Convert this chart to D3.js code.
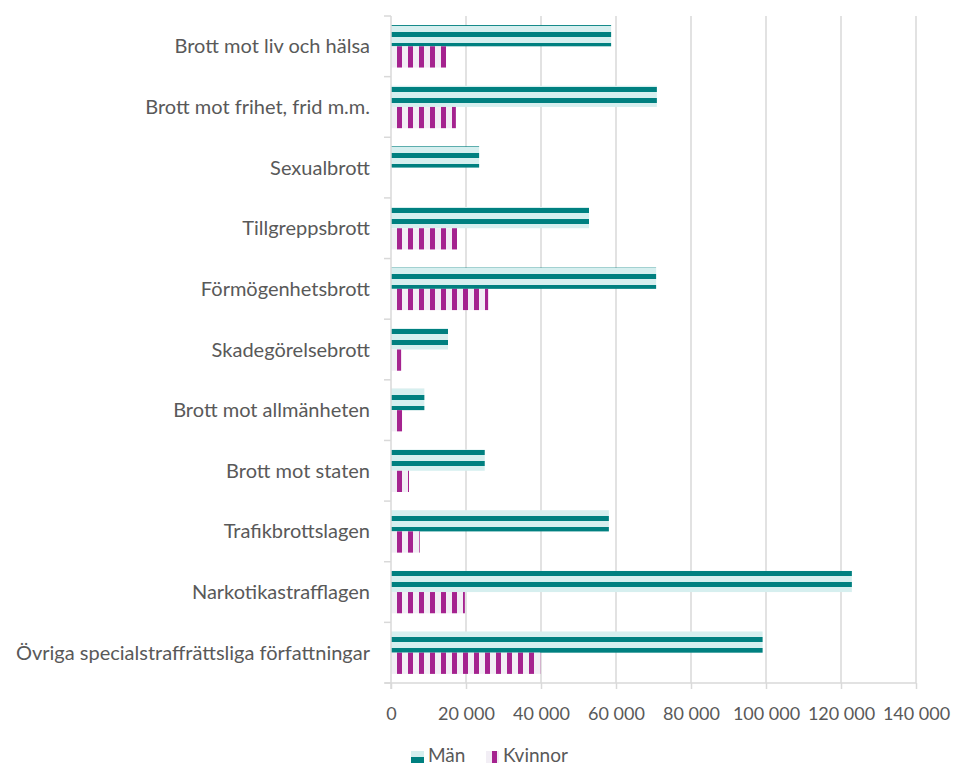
<!DOCTYPE html>
<html><head><meta charset="utf-8">
<script src="https://cdn.jsdelivr.net/npm/d3@7"></script>
<style>body{margin:0;background:#fff}svg{display:block}text{font-family:Lato,"Open Sans",sans-serif;fill:#595959}</style>
</head><body><svg id="c" width="954" height="767"></svg>
<script>
const categories = ["Brott mot liv och hälsa","Brott mot frihet, frid m.m.","Sexualbrott","Tillgreppsbrott","Förmögenhetsbrott","Skadegörelsebrott","Brott mot allmänheten","Brott mot staten","Trafikbrottslagen","Narkotikastrafflagen","Övriga specialstraffrättsliga författningar"];
const man = [58700,70900,23500,52800,70700,15200,8900,25000,58100,122900,99100];
const kvinnor = [14700,17300,150,17600,25900,2700,3000,4800,7650,19700,39800];
const seriesNames = ["Män","Kvinnor"];
const xTicks = [0,20000,40000,60000,80000,100000,120000,140000];

const svg = d3.select("#c");
const L = 391, R = 916, T = 16, B = 683;
const x = d3.scaleLinear().domain([0,140000]).range([L,R]);
const y = d3.scaleBand().domain(categories).range([T,B]).paddingInner(0.3).paddingOuter(0.15);
const ys = d3.scaleBand().domain(seriesNames).range([0,y.bandwidth()]);
const fmt = d3.formatLocale({decimal:",",thousands:" ",grouping:[3],currency:["","kr"]}).format(",");

const defs = svg.append("defs");
const pm = defs.append("pattern").attr("id","pm").attr("patternUnits","userSpaceOnUse").attr("x",0).attr("y",10).attr("width",11).attr("height",11);
pm.append("rect").attr("width",11).attr("height",11).attr("fill","#d6efef");
pm.append("rect").attr("width",11).attr("height",5).attr("fill","#008080");
const pk = defs.append("pattern").attr("id","pk").attr("patternUnits","userSpaceOnUse").attr("x",1).attr("y",0).attr("width",11).attr("height",11);
pk.append("rect").attr("width",11).attr("height",11).attr("fill","#f2eef5");
pk.append("rect").attr("width",5).attr("height",11).attr("fill","#a5238f");

// grid
svg.append("g").selectAll("line").data(xTicks.slice(1)).join("line")
  .attr("x1",d=>x(d)).attr("x2",d=>x(d)).attr("y1",T).attr("y2",B)
  .attr("stroke","#d9d9d9").attr("stroke-width",1.5);

// bars
const rows = categories.map((c,i)=>({c, v:[man[i],kvinnor[i]]}));
const g = svg.append("g");
g.selectAll("rect.m").data(rows).join("rect").attr("class","m")
  .attr("x",x(0)).attr("y",d=>y(d.c)+ys("Män")).attr("height",ys.bandwidth())
  .attr("width",d=>x(d.v[0])-x(0)).attr("fill","url(#pm)");
g.selectAll("rect.k").data(rows).join("rect").attr("class","k")
  .attr("x",x(0)).attr("y",d=>y(d.c)+ys("Kvinnor")).attr("height",ys.bandwidth())
  .attr("width",d=>x(d.v[1])-x(0)).attr("fill","url(#pk)");

// x axis
const xa = svg.append("g").attr("transform",`translate(0,${B})`)
  .call(d3.axisBottom(x).tickValues(xTicks).tickFormat(fmt).tickSize(6).tickPadding(18));
xa.select(".domain").attr("stroke","#d9d9d9").attr("stroke-width",1.5).attr("d",`M${L-6},0H${R}`);
xa.selectAll(".tick line").attr("stroke","#d9d9d9").attr("stroke-width",1.5);
xa.selectAll(".tick text").attr("font-size",18).style("font-family","Lato,sans-serif").attr("fill","#595959");

// y axis
svg.append("line").attr("x1",L).attr("x2",L).attr("y1",T).attr("y2",B+6).attr("stroke","#d9d9d9").attr("stroke-width",1.5);
const bounds = d3.range(categories.length+1).map(i=>T+i*(B-T)/categories.length);
svg.append("g").selectAll("line").data(bounds).join("line")
  .attr("x1",L-7).attr("x2",L).attr("y1",d=>d).attr("y2",d=>d).attr("stroke","#d9d9d9").attr("stroke-width",1.5);
svg.append("g").selectAll("text").data(categories).join("text")
  .attr("x",370).attr("y",(d,i)=>T+(i+0.5)*(B-T)/categories.length).attr("dy","0.35em")
  .attr("text-anchor","end").attr("font-size",20).text(d=>d);

// legend
const lg = svg.append("g");
lg.append("rect").attr("x",411).attr("y",751).attr("width",13).attr("height",6).attr("fill","#d6efef");
lg.append("rect").attr("x",411).attr("y",757).attr("width",13).attr("height",6).attr("fill","#008080");
lg.append("text").attr("x",428).attr("y",755).attr("dy","0.35em").attr("font-size",19).text(seriesNames[0]);
lg.append("rect").attr("x",486).attr("y",751).attr("width",13).attr("height",12).attr("fill","#f2eef5");
lg.append("rect").attr("x",492).attr("y",751).attr("width",5).attr("height",12).attr("fill","#a5238f");
lg.append("text").attr("x",503).attr("y",755).attr("dy","0.35em").attr("font-size",19).text(seriesNames[1]);
</script></body></html>
